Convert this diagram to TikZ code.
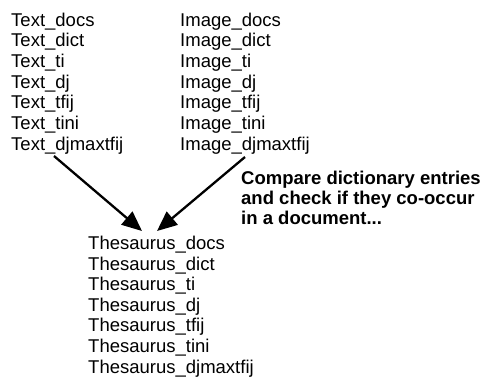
\documentclass[tikz,border=0pt]{standalone}
\usepackage{fontspec}
\setmainfont{Liberation Sans}
\usetikzlibrary{arrows.meta}
\begin{document}
\begin{tikzpicture}[x=1pt,y=-1pt,
  lbl/.style={anchor=base west,inner sep=0pt,font=\fontsize{18.5}{21}\selectfont},
  blbl/.style={anchor=base west,inner sep=0pt,font=\fontsize{18.5}{20}\selectfont\bfseries},
  arr/.style={line width=2.3pt,-{Triangle[length=20pt,width=17pt]}}]
\useasboundingbox (0,0) rectangle (483,378);
\foreach \t [count=\i from 0] in {docs,dict,ti,dj,tfij,tini,djmaxtfij}{
  \node[lbl] (t\i) at (11,26+20.67*\i) {Text\_\t};
  \node[lbl] (m\i) at (180,26+20.67*\i) {Image\_\t};
  \node[lbl] (h\i) at (88,249.5+20.6*\i) {Thesaurus\_\t};
}
\node[blbl] (c1) at (241,184) {Compare dictionary entries};
\node[blbl] (c2) at (241,204) {and check if they co-occur};
\node[blbl] (c3) at (241,224) {in a document...};
\coordinate (ts) at (54,156);
\coordinate (ms) at (245,157);
\coordinate (te) at (142,231);
\coordinate (me) at (157,231);
\draw[arr] (ts) -- (te);
\draw[arr] (ms) -- (me);
\end{tikzpicture}
\end{document}
